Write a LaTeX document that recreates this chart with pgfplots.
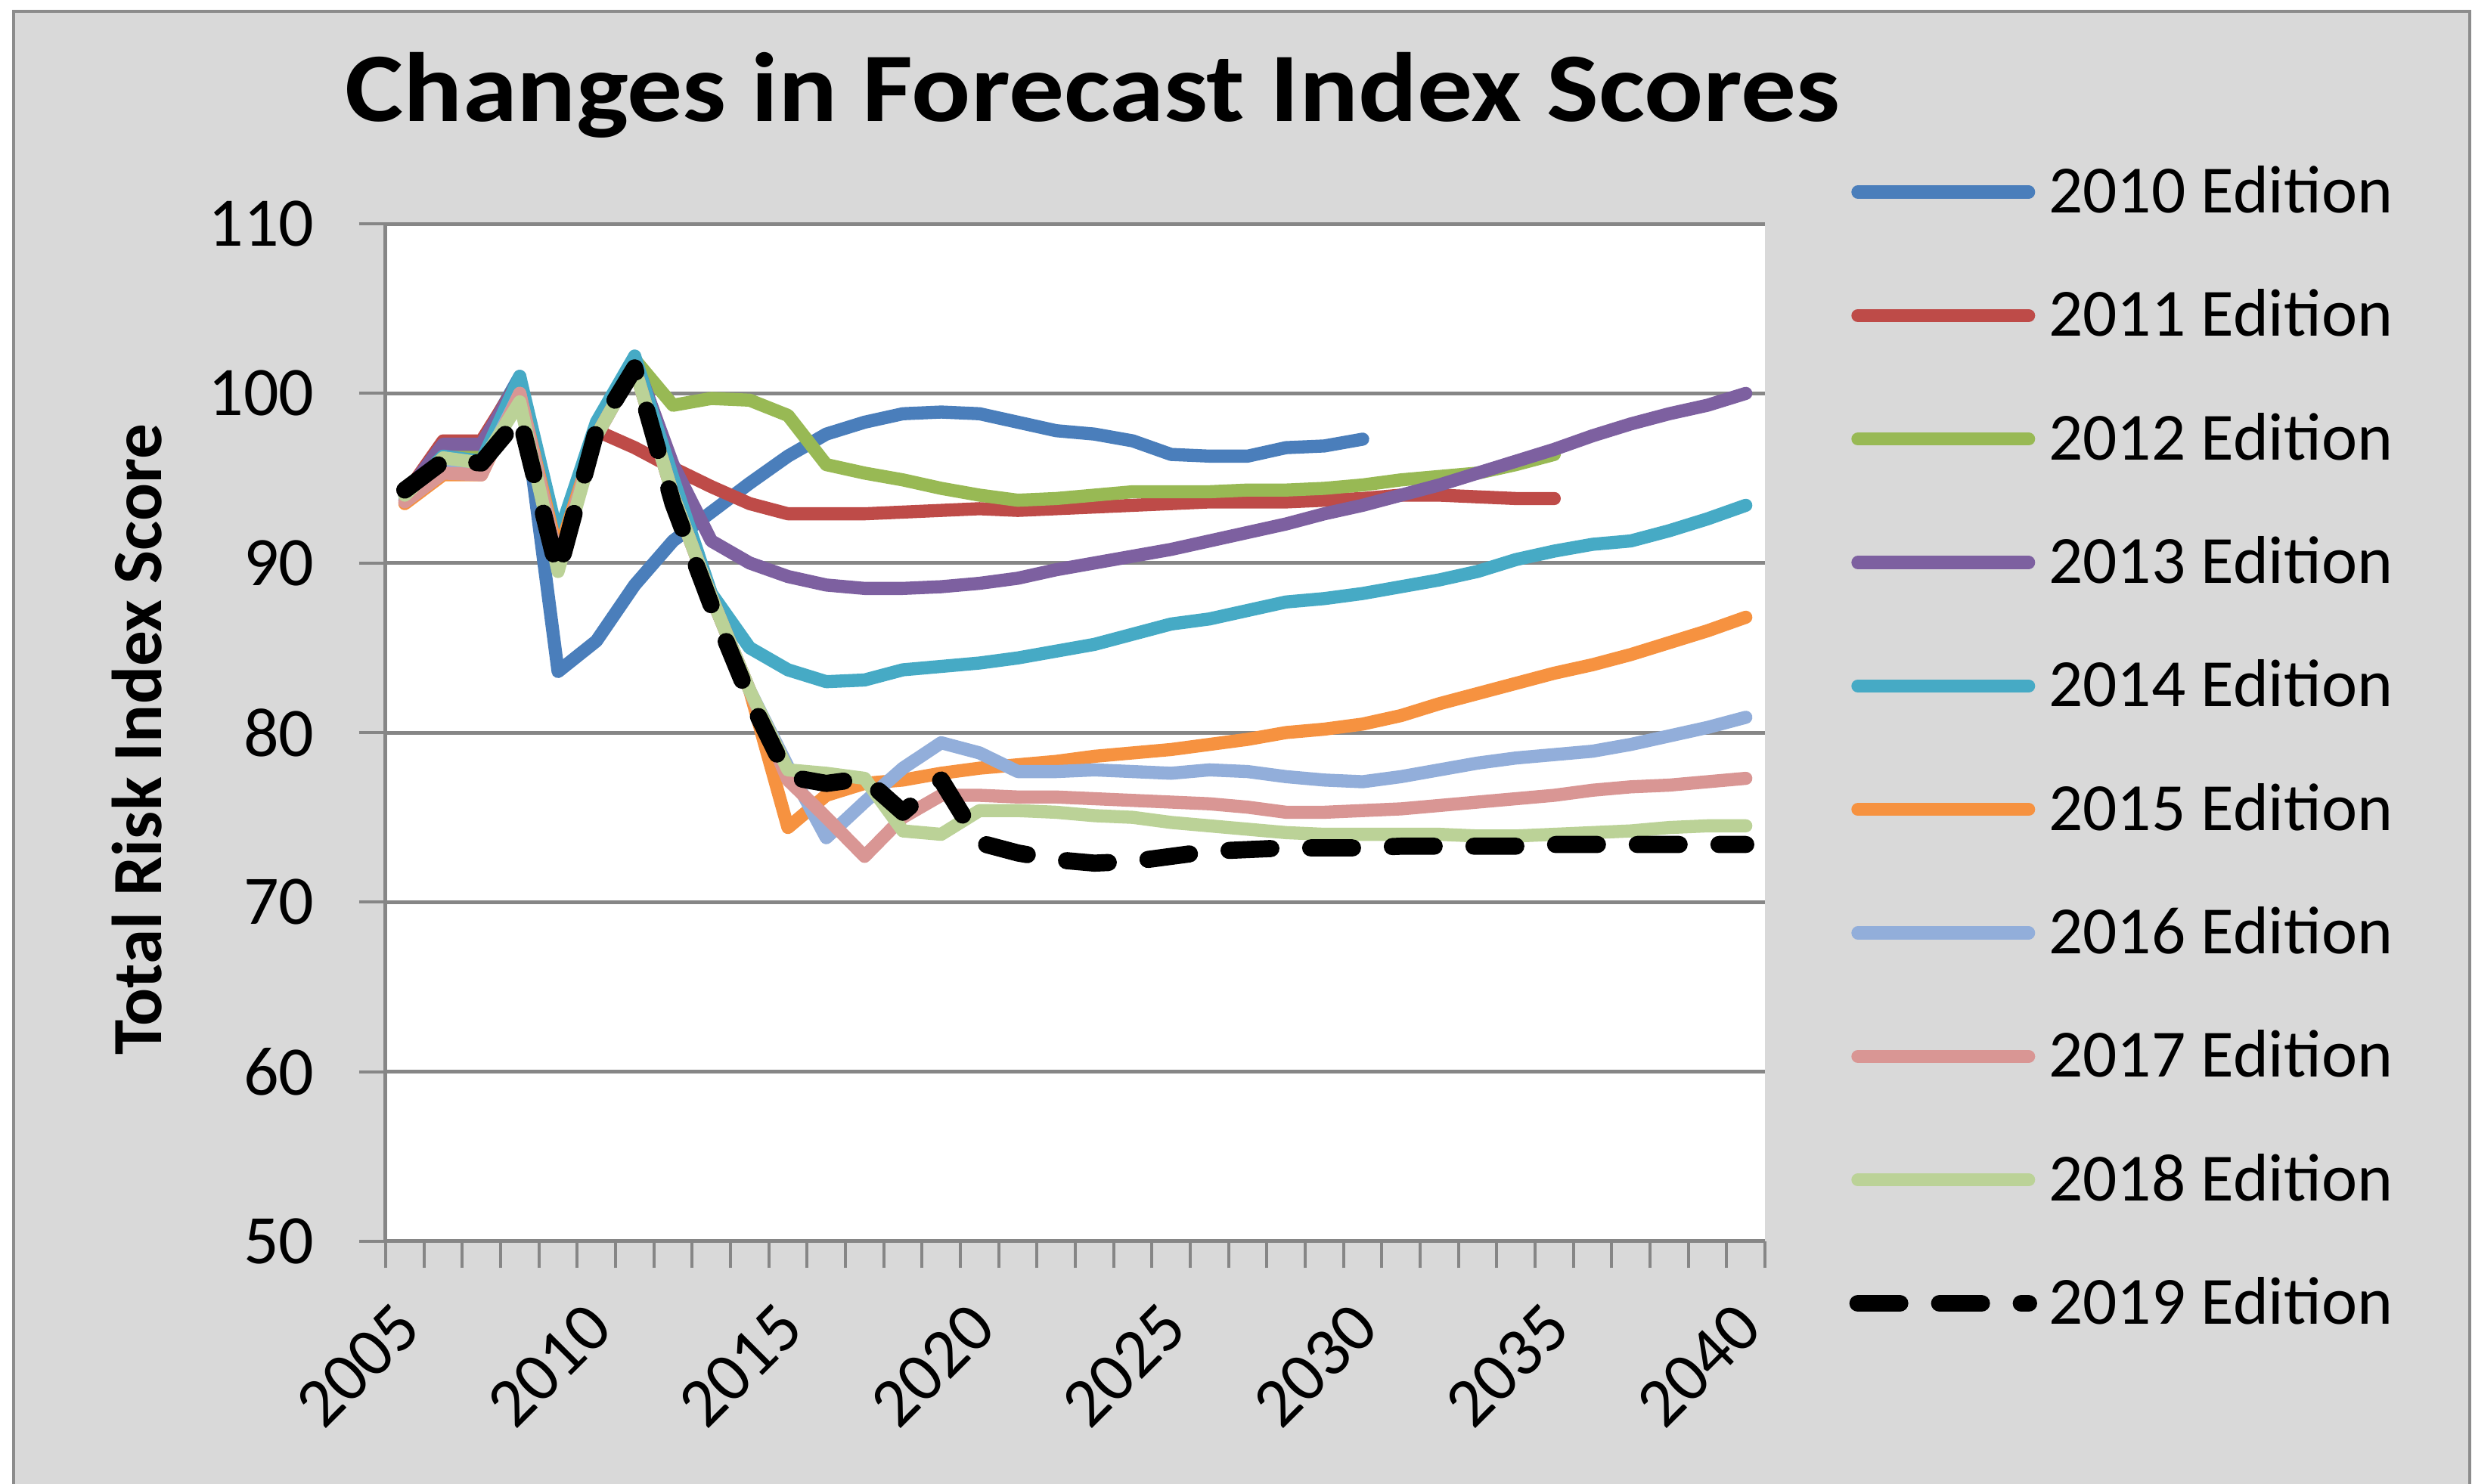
\documentclass[border=0pt]{standalone}
\usepackage{fontspec}
\setmainfont{Carlito}
\usepackage{pgfplots}
\pgfplotsset{compat=1.18}
\definecolor{bgc}{HTML}{D9D9D9}
\definecolor{bordc}{HTML}{8C8C8C}
\definecolor{gridc}{HTML}{868686}
\definecolor{cA}{HTML}{4A7EBB}
\definecolor{cB}{HTML}{BE4B48}
\definecolor{cC}{HTML}{98B954}
\definecolor{cD}{HTML}{7D60A0}
\definecolor{cE}{HTML}{46AAC5}
\definecolor{cF}{HTML}{F69240}
\definecolor{cG}{HTML}{92AEDA}
\definecolor{cH}{HTML}{D99694}
\definecolor{cI}{HTML}{BBD297}
\begin{document}
\begin{tikzpicture}
\useasboundingbox (-76.5pt,-48.15pt) rectangle (413.85pt,246.3pt);
\fill[white] (-76.5pt,-48.15pt) rectangle (413.85pt,246.3pt);
\filldraw[fill=bgc, draw=bordc, line width=0.7pt] (-73.8pt,-55pt) rectangle (413.4pt,244.05pt);
\begin{axis}[
  at={(0pt,0pt)}, anchor=south west,
  scale only axis, width=273.6pt, height=201.9pt,
  xmin=2004.5, xmax=2040.5, ymin=50, ymax=110,
  axis x line*=bottom, axis y line*=left,
  axis line style={draw=gridc, line width=0.75pt},
  axis background/.style={fill=white},
  ytick={50,60,...,110},
  minor ytick={50,60,...,110},
  ymajorgrids, grid style={draw=gridc, line width=0.75pt},
  tick align=outside,
  major tick length=0pt,
  minor tick length=5.3pt,
  tick style={draw=gridc, line width=0.6pt},
  xtick={2005,2010,2015,2020,2025,2030,2035,2040},
  xticklabels={2005,2010,2015,2020,2025,2030,2035,2040},
  minor xtick={2004.5,2005.5,...,2040.5},
  /pgf/number format/assume math mode=true,
  tick label style={font=\fontsize{13.8}{16}\selectfont, text=black},
  xticklabel style={xshift=-2.6pt, yshift=-11.25pt, rotate=45, anchor=north east, inner sep=0pt},
  yticklabel style={xshift=-14pt, anchor=east, inner sep=0pt},
  title={\scalebox{1.12}[1]{Changes in Forecast Index Scores}},
  title style={font=\fontsize{19.5}{22}\selectfont\bfseries, at={(0.5128,1.0711)}, anchor=base, inner sep=0pt},
  ylabel={Total Risk Index Score},
  ylabel style={font=\fontsize{14}{16}\selectfont\bfseries, at={(-0.1628,0.4933)}, anchor=base, inner sep=0pt},
  legend style={at={(1.0612,1.0515)}, anchor=north west, draw=none, fill=none, inner sep=0pt, outer sep=0pt,
    font=\fontsize{13.4}{15}\selectfont, row sep=16.3pt, column sep=2.3pt,
    nodes={inner sep=0pt, text height=8.2pt, text depth=0pt}},
  legend cell align=left,
  legend image code/.code={\draw[#1] (0pt,0pt) -- (33.85pt,0pt);},
  every axis plot/.append style={line width=2.6pt, line cap=round, line join=round},
]
\addplot[cA] coordinates {(2005,94.0) (2006,96.8) (2007,97.0) (2008,101.0) (2009,83.6) (2010,85.4) (2011,88.7) (2012,91.3) (2013,93.0) (2014,94.7) (2015,96.3) (2016,97.6) (2017,98.3) (2018,98.8) (2019,98.9) (2020,98.8) (2021,98.3) (2022,97.8) (2023,97.6) (2024,97.2) (2025,96.4) (2026,96.3) (2027,96.3) (2028,96.8) (2029,96.9) (2030,97.3)};
\addlegendentry{2010 Edition}
\addplot[cB] coordinates {(2005,94.0) (2006,97.2) (2007,97.2) (2008,100.8) (2009,90.5) (2010,97.8) (2011,96.8) (2012,95.6) (2013,94.5) (2014,93.5) (2015,92.9) (2016,92.9) (2017,92.9) (2018,93.0) (2019,93.1) (2020,93.2) (2021,93.1) (2022,93.2) (2023,93.3) (2024,93.4) (2025,93.5) (2026,93.6) (2027,93.6) (2028,93.6) (2029,93.7) (2030,93.8) (2031,94.0) (2032,94.0) (2033,93.9) (2034,93.8) (2035,93.8)};
\addlegendentry{2011 Edition}
\addplot[cC] coordinates {(2005,94.0) (2006,96.5) (2007,96.5) (2008,100.5) (2009,90.0) (2010,98.0) (2011,102.0) (2012,99.3) (2013,99.7) (2014,99.6) (2015,98.7) (2016,95.8) (2017,95.3) (2018,94.9) (2019,94.4) (2020,94.0) (2021,93.7) (2022,93.8) (2023,94.0) (2024,94.2) (2025,94.2) (2026,94.2) (2027,94.3) (2028,94.3) (2029,94.4) (2030,94.6) (2031,94.9) (2032,95.1) (2033,95.3) (2034,95.8) (2035,96.4)};
\addlegendentry{2012 Edition}
\addplot[cD] coordinates {(2005,94.0) (2006,97.0) (2007,97.0) (2008,100.8) (2009,90.5) (2010,98.0) (2011,102.0) (2012,95.8) (2013,91.3) (2014,90.0) (2015,89.2) (2016,88.7) (2017,88.5) (2018,88.5) (2019,88.6) (2020,88.8) (2021,89.1) (2022,89.6) (2023,90.0) (2024,90.4) (2025,90.8) (2026,91.3) (2027,91.8) (2028,92.3) (2029,92.9) (2030,93.4) (2031,94.0) (2032,94.6) (2033,95.3) (2034,96.0) (2035,96.7) (2036,97.5) (2037,98.2) (2038,98.8) (2039,99.3) (2040,100.0)};
\addlegendentry{2013 Edition}
\addplot[cE] coordinates {(2005,94.0) (2006,96.3) (2007,96.0) (2008,101.0) (2009,91.5) (2010,98.3) (2011,102.2) (2012,95.0) (2013,88.2) (2014,85.0) (2015,83.7) (2016,83.0) (2017,83.1) (2018,83.7) (2019,83.9) (2020,84.1) (2021,84.4) (2022,84.8) (2023,85.2) (2024,85.8) (2025,86.4) (2026,86.7) (2027,87.2) (2028,87.7) (2029,87.9) (2030,88.2) (2031,88.6) (2032,89.0) (2033,89.5) (2034,90.2) (2035,90.7) (2036,91.1) (2037,91.3) (2038,91.9) (2039,92.6) (2040,93.4)};
\addlegendentry{2014 Edition}
\addplot[cF] coordinates {(2005,93.5) (2006,95.2) (2007,95.2) (2008,100.0) (2009,90.5) (2010,97.5) (2011,101.5) (2012,94.0) (2013,88.0) (2014,82.5) (2015,74.4) (2016,76.3) (2017,77.0) (2018,77.2) (2019,77.6) (2020,77.9) (2021,78.1) (2022,78.3) (2023,78.6) (2024,78.8) (2025,79.0) (2026,79.3) (2027,79.6) (2028,80.0) (2029,80.2) (2030,80.5) (2031,81.0) (2032,81.7) (2033,82.3) (2034,82.9) (2035,83.5) (2036,84.0) (2037,84.6) (2038,85.3) (2039,86.0) (2040,86.8)};
\addlegendentry{2015 Edition}
\addplot[cG] coordinates {(2005,93.7) (2006,95.8) (2007,95.5) (2008,100.0) (2009,90.0) (2010,97.5) (2011,101.5) (2012,94.0) (2013,88.0) (2014,82.5) (2015,78.0) (2016,73.8) (2017,75.9) (2018,77.9) (2019,79.4) (2020,78.8) (2021,77.7) (2022,77.7) (2023,77.8) (2024,77.7) (2025,77.6) (2026,77.8) (2027,77.7) (2028,77.4) (2029,77.2) (2030,77.1) (2031,77.4) (2032,77.8) (2033,78.2) (2034,78.5) (2035,78.7) (2036,78.9) (2037,79.3) (2038,79.8) (2039,80.3) (2040,80.9)};
\addlegendentry{2016 Edition}
\addplot[cH] coordinates {(2005,93.6) (2006,95.3) (2007,95.2) (2008,100.0) (2009,90.0) (2010,97.5) (2011,101.5) (2012,94.0) (2013,88.0) (2014,82.5) (2015,77.2) (2016,75.0) (2017,72.7) (2018,75.0) (2019,76.3) (2020,76.3) (2021,76.2) (2022,76.2) (2023,76.1) (2024,76.0) (2025,75.9) (2026,75.8) (2027,75.6) (2028,75.3) (2029,75.3) (2030,75.4) (2031,75.5) (2032,75.7) (2033,75.9) (2034,76.1) (2035,76.3) (2036,76.6) (2037,76.8) (2038,76.9) (2039,77.1) (2040,77.3)};
\addlegendentry{2017 Edition}
\addplot[cI] coordinates {(2005,94.0) (2006,96.2) (2007,95.9) (2008,99.5) (2009,89.5) (2010,97.5) (2011,101.5) (2012,94.0) (2013,88.0) (2014,82.5) (2015,77.8) (2016,77.6) (2017,77.3) (2018,74.2) (2019,74.0) (2020,75.4) (2021,75.4) (2022,75.3) (2023,75.1) (2024,75.0) (2025,74.7) (2026,74.5) (2027,74.3) (2028,74.1) (2029,74.0) (2030,74.0) (2031,74.0) (2032,74.0) (2033,73.9) (2034,73.9) (2035,74.0) (2036,74.1) (2037,74.2) (2038,74.4) (2039,74.5) (2040,74.5)};
\addlegendentry{2018 Edition}
\addplot[black, line width=3.4pt, dash pattern=on 8.3pt off 7.9pt] coordinates {(2005,94.3) (2006,96.0) (2007,95.9) (2008,98.6) (2009,89.4) (2010,97.8) (2011,101.5) (2012,93.5) (2013,87.5) (2014,82.0) (2015,77.4) (2016,77.0) (2017,77.3) (2018,75.3) (2019,77.2) (2020,73.5) (2021,72.9) (2022,72.5) (2023,72.3) (2024,72.4) (2025,72.7) (2026,73.0) (2027,73.1) (2028,73.2) (2029,73.2) (2030,73.2) (2031,73.3) (2032,73.3) (2033,73.3) (2034,73.3) (2035,73.4) (2036,73.4) (2037,73.4) (2038,73.4) (2039,73.4) (2040,73.4)};
\addlegendentry{2019 Edition}
\end{axis}
\end{tikzpicture}
\end{document}
